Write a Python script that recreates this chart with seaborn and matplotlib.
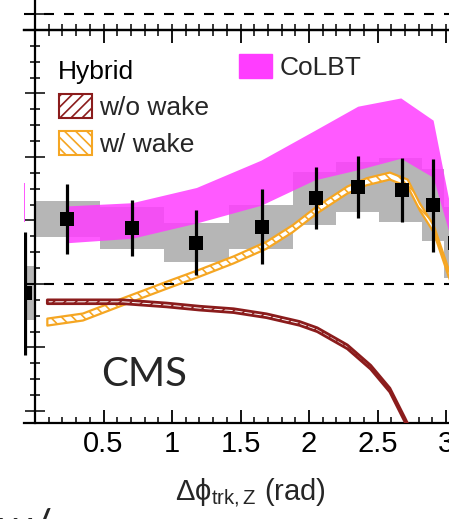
import numpy as np
import pandas as pd
import matplotlib
matplotlib.use("Agg")
import matplotlib.pyplot as plt
import seaborn as sns
from matplotlib.patches import Patch
from matplotlib.ticker import FixedLocator, FixedFormatter, MultipleLocator

# ---- CMS data (black squares, stat. errors, systematic boxes) ----
bin_lo = [0.0, 0.471, 0.942, 1.414, 1.885, 2.199, 2.513, 2.827, 2.985]
bin_hi = [0.471, 0.942, 1.414, 1.885, 2.199, 2.513, 2.827, 2.985, 3.142]
cms_x = [0.236, 0.707, 1.178, 1.660, 2.050, 2.360, 2.680, 2.906, 3.064]
cms_y = [1.02, 0.88, 0.65, 0.90, 1.35, 1.53, 1.48, 1.24, 0.65]
cms_stat = [0.55, 0.44, 0.51, 0.59, 0.49, 0.49, 0.50, 0.73, 0.60]
cms_syst = [0.28, 0.33, 0.31, 0.35, 0.42, 0.39, 0.50, 0.57, 0.56]

# last bin of the neighbouring panel, peeking in on the left
prev_x = [-0.070]
prev_y = [-0.14]
prev_stat_lo = [0.98]
prev_stat_hi = [0.96]
prev_syst = [0.42]
prev_colbt_lo = [0.98]
prev_colbt_hi = [1.59]

# ---- CoLBT band ----
colbt_x = [0.236, 0.707, 1.178, 1.649, 2.042, 2.356, 2.670, 2.906, 3.064]
colbt_hi = [1.23, 1.28, 1.52, 1.95, 2.42, 2.80, 2.93, 2.58, 0.85]
colbt_lo = [0.65, 0.72, 0.96, 1.24, 1.64, 1.80, 1.98, 1.68, 0.50]

# ---- Hybrid, with wake ----
wake_x = [0.09, 0.35, 0.64, 0.96, 1.20, 1.45, 1.69, 1.88, 2.06, 2.28, 2.42,
          2.59, 2.72, 2.81, 2.91, 3.02, 3.14]
wake_y = [-0.60, -0.52, -0.28, -0.02, 0.17, 0.38, 0.61, 0.87, 1.17, 1.48,
          1.61, 1.70, 1.59, 1.21, 0.87, 0.17, -0.50]
wake_w = 0.055

# ---- Hybrid, without wake ----
nowake_x = [0.09, 0.64, 0.96, 1.20, 1.45, 1.69, 1.93, 2.06, 2.28, 2.45, 2.59,
            2.70, 2.78]
nowake_y = [-0.28, -0.28, -0.33, -0.38, -0.42, -0.50, -0.62, -0.72, -0.99,
            -1.31, -1.67, -2.14, -2.50]
nowake_w = 0.03

xticks = [0, 0.5, 1, 1.5, 2, 2.5, 3]
xtick_labels = ["", "0.5", "1", "1.5", "2", "2.5", "3"]

C_GRAY = "#b6b6b6"
C_MAG = "#ff3dff"
C_ORANGE = "#f5a623"
C_RED = "#8b1c1c"

sns.set_theme(style="ticks")
plt.rcParams["font.family"] = ["Liberation Sans", "DejaVu Sans"]
plt.rcParams["mathtext.fontset"] = "custom"
plt.rcParams["mathtext.rm"] = "Liberation Sans"
plt.rcParams["mathtext.it"] = "Liberation Sans:italic"
plt.rcParams["hatch.linewidth"] = 1.2

W, H = 449, 519
fig = plt.figure(figsize=(W / 100, H / 100), dpi=100)

X0, X1 = -0.078, 3.1416
PX_PER_X = 137.0
left_px = 35 + X0 * PX_PER_X
right_px = 35 + X1 * PX_PER_X
ax = fig.add_axes([left_px / W, (H - 423) / H, (right_px - left_px) / W, 393 / H])
ax.set_xlim(X0, X1)
ax.set_ylim(-2.189, 4.0)

# systematic boxes
lo = np.array(bin_lo)
hi = np.array(bin_hi)
y = np.array(cms_y)
sy = np.array(cms_syst)
ax.bar(lo, 2 * sy, bottom=y - sy, width=hi - lo, align="edge",
       color=C_GRAY, linewidth=0, zorder=1)
ax.bar([X0], [2 * prev_syst[0]], bottom=[prev_y[0] - prev_syst[0]],
       width=[-X0], align="edge", color=C_GRAY, linewidth=0, zorder=1)

# CoLBT band
ax.fill_between(colbt_x, colbt_lo, colbt_hi, color=C_MAG, alpha=0.85,
                linewidth=0, zorder=2)
ax.fill_between([X0, prev_x[0]], prev_colbt_lo * 2, prev_colbt_hi * 2,
                color=C_MAG, alpha=0.85, linewidth=0, zorder=2)

# Hybrid bands
wy = np.array(wake_y)
ax.fill_between(wake_x, wy - wake_w, wy + wake_w, facecolor="white",
                edgecolor=C_ORANGE, hatch="\\\\\\", linewidth=1.6, zorder=3)
ny = np.array(nowake_y)
ax.fill_between(nowake_x, ny - nowake_w, ny + nowake_w, facecolor="white",
                edgecolor=C_RED, hatch="///", linewidth=2.0, zorder=3)

# zero line
ax.axhline(0, color="black", lw=1.5, ls=(0, (4.8, 4.8)), zorder=4)

# data points
ax.errorbar(cms_x, cms_y, yerr=cms_stat, fmt="none", ecolor="black",
            elinewidth=2.3, capsize=0, zorder=5)
ax.errorbar(prev_x, prev_y, yerr=[prev_stat_lo, prev_stat_hi], fmt="none",
            ecolor="black", elinewidth=2.3, capsize=0, zorder=5)
pts = pd.DataFrame({"dphi": cms_x + prev_x, "val": cms_y + prev_y})
sns.scatterplot(data=pts, x="dphi", y="val", marker="s", s=90, color="black",
                edgecolor="black", linewidth=0, zorder=6, ax=ax, legend=False)
ax.set_xlabel("")
ax.set_ylabel("")

# axes styling
for s in ax.spines.values():
    s.set_linewidth(1.6)
    s.set_color("black")
ax.spines["left"].set_position(("data", 0))
ax.spines["right"].set_visible(False)

ax.xaxis.set_major_locator(FixedLocator(xticks))
ax.xaxis.set_major_formatter(FixedFormatter(xtick_labels))
ax.xaxis.set_minor_locator(MultipleLocator(0.1))
ax.tick_params(axis="x", which="major", direction="in", length=9.4, width=1.3,
               top=True, bottom=True, labelsize=21, pad=5, colors="black")
ax.tick_params(axis="x", which="minor", direction="in", length=4.5, width=1.3,
               top=True, bottom=True)
ax.yaxis.set_major_locator(MultipleLocator(1))
ax.yaxis.set_minor_locator(MultipleLocator(0.25))
ax.tick_params(axis="y", which="major", direction="inout", length=14, width=1.3,
               left=True, right=False, labelleft=False)
ax.tick_params(axis="y", which="minor", direction="inout", length=7, width=1.3,
               left=True, right=False)

# strip of the panel above
axu = fig.add_axes([left_px / W, (H - 30) / H, (right_px - left_px) / W, 32 / H])
axu.set_xlim(X0, X1)
axu.set_ylim(-1, 1)
axu.axhline(0, color="black", lw=1.5, ls=(0, (4.8, 4.8)))
axu.set_facecolor("none")
for s in axu.spines.values():
    s.set_linewidth(1.6)
    s.set_color("black")
axu.spines["left"].set_position(("data", 0))
axu.spines["top"].set_visible(False)
axu.spines["right"].set_visible(False)
axu.xaxis.set_major_locator(FixedLocator(xticks))
axu.xaxis.set_minor_locator(MultipleLocator(0.1))
axu.tick_params(axis="x", which="both", direction="in", length=4, width=1.3,
                labelbottom=False)
axu.yaxis.set_major_locator(FixedLocator([0]))
axu.tick_params(axis="y", which="major", direction="inout", length=14,
                width=1.3, labelleft=False)


def fx(px):
    return (px - left_px) / (right_px - left_px)


def fy(py):
    return (423 - py) / 393


# legends
ax.text(fx(58), fy(72), "Hybrid", transform=ax.transAxes, fontsize=19,
        va="center", ha="left", color="black")
hyb_handles = [
    Patch(facecolor="white", edgecolor=C_RED, hatch="///", linewidth=1.5,
          label="w/o wake"),
    Patch(facecolor="white", edgecolor=C_ORANGE, hatch="\\\\\\", linewidth=1.5,
          label="w/ wake"),
]
leg1 = ax.legend(handles=hyb_handles, loc="upper left",
                 bbox_to_anchor=(fx(59), fy(94)), frameon=False, fontsize=19,
                 handlelength=1.25, handleheight=1.0, handletextpad=0.25,
                 labelspacing=0.42, borderpad=0, borderaxespad=0)
ax.add_artist(leg1)
ax.legend(handles=[Patch(facecolor=C_MAG, edgecolor=C_MAG, label="CoLBT")],
          loc="upper left", bbox_to_anchor=(fx(239), fy(54)), frameon=False,
          fontsize=19, handlelength=1.25, handleheight=1.0, handletextpad=0.3,
          borderpad=0, borderaxespad=0)

fig.text(101 / W, (H - 386) / H, "CMS", family=["Lato", "DejaVu Sans"],
         fontsize=29, va="baseline", ha="left")
fig.text(250 / W, (H - 500) / H, "Δ\u03d5$_{\\mathrm{trk,Z}}$ (rad)",
         fontsize=21, ha="center", va="baseline")
fig.text(-3 / W, -22 / H, "w/", family=["Lato", "DejaVu Sans"], fontsize=32,
         va="baseline", ha="left")

fig.savefig("out.png", dpi=100)
